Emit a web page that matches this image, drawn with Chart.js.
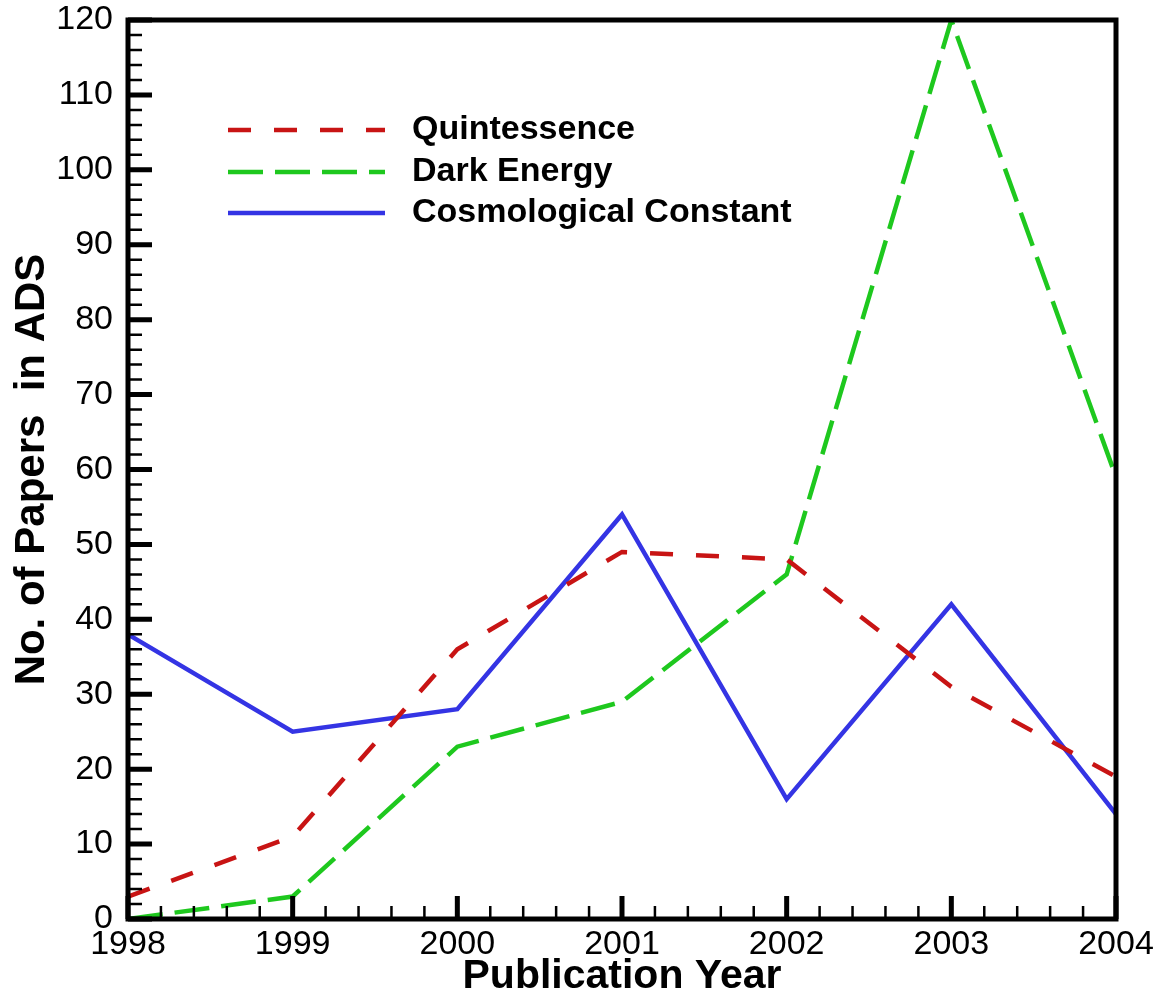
<!DOCTYPE html>
<html>
<head>
<meta charset="utf-8">
<title>No. of Papers in ADS by Publication Year</title>
<script src="https://cdn.jsdelivr.net/npm/chart.js@4/dist/chart.umd.min.js"></script>
<style>
  html, body { margin: 0; padding: 0; background: #ffffff; }
  #wrap { width: 1159px; height: 999px; position: relative; }
</style>
</head>
<body>
<div id="wrap"><canvas id="chart" width="1159" height="999"></canvas></div>
<script>
// Publication years on the x axis
const years = [1998, 1999, 2000, 2001, 2002, 2003, 2004];

// Papers per year for each search term
const quintessence = [3, 11, 36, 49, 48, 31, 19];
const darkEnergy = [0, 3, 23, 29, 46, 120, 59];
const cosmologicalConstant = [38, 25, 28, 54, 16, 42, 14];

// Series names shown in the key
const seriesNames = ['Quintessence', 'Dark Energy', 'Cosmological Constant'];

// Axis ranges and tick steps
const yMin = 0, yMax = 120, yStep = 10, yMinorSteps = 5;
const xMinorSteps = 5;

const FONT = '"Liberation Sans", Arial, Helvetica, sans-serif';

function toPoints(values) {
  return years.map((yr, i) => ({ x: yr, y: values[i] }));
}

// Frame with inward major/minor ticks on the bottom and left axes
const framePlugin = {
  id: 'frameTicks',
  afterDatasetsDraw(chart) {
    const { ctx, chartArea: a, scales } = chart;
    const xs = scales.x, ys = scales.y;
    ctx.save();
    ctx.strokeStyle = '#000';
    ctx.lineCap = 'butt';

    // minor ticks
    ctx.lineWidth = 2.5;
    ctx.beginPath();
    for (let i = 0; i < years.length - 1; i++) {
      for (let k = 1; k < xMinorSteps; k++) {
        const px = xs.getPixelForValue(years[i] + k / xMinorSteps);
        ctx.moveTo(px, a.bottom);
        ctx.lineTo(px, a.bottom - 13);
      }
    }
    for (let v = yMin; v < yMax; v += yStep) {
      for (let k = 1; k < yMinorSteps; k++) {
        const py = ys.getPixelForValue(v + k * yStep / yMinorSteps);
        ctx.moveTo(a.left, py);
        ctx.lineTo(a.left + 14, py);
      }
    }
    ctx.stroke();

    // major ticks
    ctx.lineWidth = 5;
    ctx.beginPath();
    years.forEach(yr => {
      const px = xs.getPixelForValue(yr);
      ctx.moveTo(px, a.bottom);
      ctx.lineTo(px, a.bottom - 23);
    });
    for (let v = yMin; v <= yMax; v += yStep) {
      const py = ys.getPixelForValue(v);
      ctx.moveTo(a.left, py);
      ctx.lineTo(a.left + 24, py);
    }
    ctx.stroke();

    // frame
    ctx.lineWidth = 5;
    ctx.strokeRect(a.left, a.top, a.right - a.left, a.bottom - a.top);
    ctx.restore();
  }
};

// Key drawn inside the plot, using each dataset's own line style
const keyPlugin = {
  id: 'innerKey',
  afterDraw(chart) {
    const { ctx } = chart;
    const x0 = 228, x1 = 385, textX = 412;
    const rows = [130, 172, 213];
    ctx.save();
    chart.data.datasets.forEach((ds, i) => {
      const y = rows[i];
      ctx.strokeStyle = ds.borderColor;
      ctx.lineWidth = ds.borderWidth;
      ctx.setLineDash(ds.borderDash || []);
      ctx.lineCap = 'butt';
      ctx.beginPath();
      ctx.moveTo(x0, y);
      ctx.lineTo(x1, y);
      ctx.stroke();
      ctx.setLineDash([]);
      ctx.fillStyle = '#000';
      ctx.font = 'bold 34px ' + FONT;
      ctx.textAlign = 'left';
      ctx.textBaseline = 'middle';
      ctx.fillText(ds.label, textX, y);
    });
    ctx.restore();
  }
};

const lineCommon = {
  borderWidth: 4.5,
  pointRadius: 0,
  pointHoverRadius: 0,
  fill: false,
  tension: 0,
  borderCapStyle: 'butt',
  borderJoinStyle: 'miter'
};

new Chart(document.getElementById('chart'), {
  type: 'line',
  data: {
    datasets: [
      Object.assign({ label: seriesNames[0], data: toPoints(quintessence),
        borderColor: '#c81414', borderDash: [23, 23] }, lineCommon),
      Object.assign({ label: seriesNames[1], data: toPoints(darkEnergy),
        borderColor: '#1ec81e', borderDash: [35, 12] }, lineCommon),
      Object.assign({ label: seriesNames[2], data: toPoints(cosmologicalConstant),
        borderColor: '#3434e4' }, lineCommon)
    ]
  },
  options: {
    responsive: false,
    animation: false,
    events: [],
    layout: { padding: { left: 0, top: 20, right: 43, bottom: 0 } },
    plugins: {
      legend: { display: false },
      tooltip: { enabled: false }
    },
    scales: {
      x: {
        type: 'linear',
        min: years[0],
        max: years[years.length - 1],
        afterFit(scale) { scale.height = 80; },
        afterBuildTicks(scale) { scale.ticks = years.map(v => ({ value: v })); },
        grid: { display: false, drawTicks: false },
        border: { display: false },
        ticks: {
          padding: 5,
          maxRotation: 0,
          autoSkip: false,
          color: '#000',
          font: { family: FONT, size: 34 },
          callback: v => String(v)
        },
        title: {
          display: true,
          text: 'Publication Year',
          color: '#000',
          font: { family: FONT, size: 41, weight: 'bold', lineHeight: 1 },
          padding: { top: 0, bottom: 2 }
        }
      },
      y: {
        type: 'linear',
        min: yMin,
        max: yMax,
        afterFit(scale) {
          scale.width = 128;
          // let the top/bottom labels overhang the plot edges
          scale.paddingTop = 0;
          scale.paddingBottom = 0;
        },
        grid: { display: false, drawTicks: false },
        border: { display: false },
        ticks: {
          stepSize: yStep,
          padding: 15,
          color: '#000',
          font: { family: FONT, size: 34 },
          callback: v => String(v)
        },
        title: {
          display: true,
          text: 'No. of Papers  in ADS',
          color: '#000',
          font: { family: FONT, size: 42, weight: 'bold', lineHeight: 1 },
          padding: { top: 11, bottom: 0 }
        }
      }
    }
  },
  plugins: [framePlugin, keyPlugin]
});
</script>
</body>
</html>
